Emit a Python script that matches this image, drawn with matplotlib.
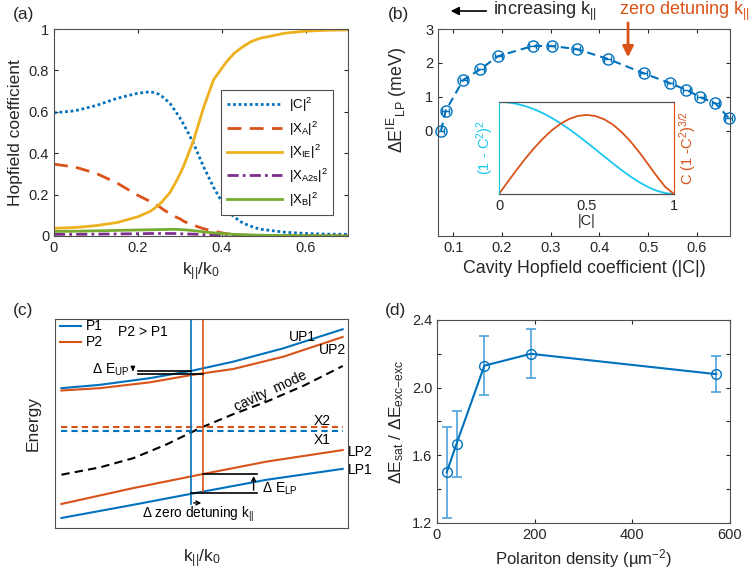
import numpy as np
import matplotlib
matplotlib.use("Agg")
from matplotlib import pyplot as plt
from matplotlib.ticker import FuncFormatter

plt.rcParams['font.family'] = ['Liberation Sans', 'DejaVu Sans']
plt.rcParams['mathtext.default'] = 'regular'
plt.rcParams['xtick.direction'] = 'in'
plt.rcParams['ytick.direction'] = 'in'
plt.rcParams['axes.edgecolor'] = '#505050'
plt.rcParams['xtick.color'] = '#262626'
plt.rcParams['ytick.color'] = '#262626'
plt.rcParams['axes.labelcolor'] = '#262626'

BLUE = '#0072BD'
ORANGE = '#D95319'
YELLOW = '#EDB120'
PURPLE = '#7E2F8E'
GREEN = '#77AC30'
CYAN = '#1AC8EE'
EBLUE = '#4DA3DC'

# (a) Hopfield coefficients vs k/k0
k_a = [0, 0.05, 0.1, 0.15, 0.2, 0.23, 0.25, 0.26, 0.276, 0.29, 0.3, 0.31, 0.332, 0.356,
       0.38, 0.41, 0.43, 0.45, 0.47, 0.49, 0.55, 0.6, 0.65, 0.7]
c2 = [0.595, 0.605, 0.63, 0.665, 0.69, 0.697, 0.685, 0.67, 0.641, 0.60, 0.57, 0.535,
      0.448, 0.335, 0.235, 0.128, 0.09, 0.062, 0.046, 0.033, 0.018, 0.012, 0.009, 0.008]
xa2 = [0.347, 0.333, 0.303, 0.256, 0.196, 0.166, 0.143, 0.128, 0.107, 0.092, 0.083, 0.07,
       0.052, 0.035, 0.023, 0.011, 0.007, 0.005, 0.003, 0.002, 0.001, 0, 0, 0]
xie2 = [0.037, 0.041, 0.05, 0.065, 0.093, 0.12, 0.15, 0.172, 0.21, 0.26, 0.30, 0.345,
        0.46, 0.62, 0.755, 0.84, 0.885, 0.915, 0.94, 0.955, 0.98, 0.99, 0.994, 0.996]
xa2s2 = [0.008, 0.008, 0.009, 0.010, 0.011, 0.012, 0.012, 0.012, 0.012, 0.012, 0.011,
         0.010, 0.009, 0.007, 0.005, 0.003, 0.002, 0.002, 0.001, 0.001, 0, 0, 0, 0]
xb2 = [0.022, 0.023, 0.025, 0.027, 0.029, 0.030, 0.031, 0.031, 0.032, 0.032, 0.031,
       0.030, 0.026, 0.020, 0.015, 0.010, 0.008, 0.006, 0.005, 0.004, 0.002, 0.001,
       0.001, 0]

# (b) LP shift vs cavity Hopfield coefficient
c_b = [0.0747, 0.0843, 0.1205, 0.155, 0.192, 0.263, 0.302, 0.353, 0.417, 0.4905,
       0.545, 0.578, 0.607, 0.638, 0.665]
de_b = [0.0, 0.59, 1.5, 1.81, 2.2, 2.5, 2.5, 2.41, 2.12, 1.7, 1.4, 1.21, 0.99, 0.81, 0.39]
c_err = [0.007] * 15

# inset of (b)
c_in = [0, .05, .1, .15, .2, .25, .3, .35, .4, .45, .5, .55, .6, .65, .7, .75, .8, .85,
        .9, .95, 1]
f1_in = [1, .995, .980, .955, .922, .879, .828, .770, .706, .636, .5625, .4865, .4096,
         .3335, .2601, .1914, .1296, .0770, .0361, .0095, 0]
f2_in = [0, .0498, .0985, .1450, .1881, .2269, .2604, .2877, .3080, .3205, .3248, .3204,
         .3072, .2853, .2549, .2170, .1728, .1243, .0745, .0289, 0]

# (c) schematic dispersions (arbitrary units)
up1_x = [0.022, 0.153, 0.324, 0.466, 0.609, 0.780, 0.982]
up1_y = [0.669, 0.685, 0.717, 0.752, 0.796, 0.860, 0.951]
up2_x = [0.022, 0.153, 0.324, 0.466, 0.609, 0.780, 0.982]
up2_y = [0.658, 0.669, 0.697, 0.732, 0.761, 0.820, 0.914]
cav_x = [0.022, 0.153, 0.267, 0.381, 0.495, 0.609, 0.723, 0.852, 0.982]
cav_y = [0.255, 0.290, 0.334, 0.400, 0.478, 0.545, 0.605, 0.683, 0.775]
lp2_x = [0.022, 0.267, 0.504, 0.723, 0.982]
lp2_y = [0.115, 0.191, 0.258, 0.318, 0.373]
lp1_x = [0.022, 0.267, 0.466, 0.723, 0.982]
lp1_y = [0.048, 0.111, 0.164, 0.231, 0.283]
x1_level = 0.462
x2_level = 0.481
k_p1 = 0.464
k_p2 = 0.504

# (d) saturation ratio vs density
dens = [20, 40, 97, 192, 572]
ratio = [1.50, 1.668, 2.13, 2.20, 2.08]
ratio_err = [0.27, 0.195, 0.175, 0.145, 0.108]

fig = plt.figure(figsize=(7.52, 5.85), dpi=100)

fmt_g = FuncFormatter(lambda v, p: '%g' % v)

# ---------- (a)
ax = fig.add_axes([0.0718, 0.5966, 0.391, 0.3538])
ax.plot(k_a, c2, color=BLUE, lw=2, ls=(0, (1, 1)), label='|C|$^2$')
ax.plot(k_a, xa2, color=ORANGE, lw=2, ls=(0, (5, 3)), label='|X$_A$|$^2$')
ax.plot(k_a, xie2, color=YELLOW, lw=2, label='|X$_{IE}$|$^2$')
ax.plot(k_a, xa2s2, color=PURPLE, lw=2, ls=(0, (4, 1.5, 1, 1.5)), label='|X$_{A2s}$|$^2$')
ax.plot(k_a, xb2, color=GREEN, lw=2, label='|X$_B$|$^2$')
ax.set_xlim(0, 0.7)
ax.set_ylim(0, 1)
ax.set_xticks([0, 0.2, 0.4, 0.6])
ax.set_yticks([0, 0.2, 0.4, 0.6, 0.8, 1])
ax.xaxis.set_major_formatter(fmt_g)
ax.yaxis.set_major_formatter(fmt_g)
ax.tick_params(labelsize=10.5, top=True, right=True, length=3)
ax.set_xlabel('k$_{||}$/k$_0$', fontsize=12.5)
ax.set_ylabel('Hopfield coefficient', fontsize=12.5)
leg = ax.legend(loc='upper right', bbox_to_anchor=(0.973, 0.739), fontsize=9.5,
                handlelength=4.2, labelspacing=0.42, borderpad=0.45, handletextpad=0.5,
                fancybox=False, edgecolor='#505050', framealpha=1)
leg.get_frame().set_linewidth(0.8)

# ---------- (b)
ax = fig.add_axes([0.5824, 0.5966, 0.3883, 0.3538])
ax.errorbar(c_b, de_b, xerr=c_err, color=BLUE, lw=1.5, ls=(0, (4, 2.5)), marker='o',
            ms=8, mfc='none', mew=1.0, capsize=2, elinewidth=1, clip_on=False)
ax.set_xlim(0.0685, 0.668)
ax.set_ylim(-3.1, 3)
ax.set_yticks([0, 1, 2, 3])
ax.set_xticks([0.1, 0.2, 0.3, 0.4, 0.5, 0.6])
ax.xaxis.set_major_formatter(fmt_g)
ax.tick_params(labelsize=10.5, top=True, right=True, length=3)
ax.set_xlabel('Cavity Hopfield coefficient (|C|)', fontsize=12.8)
ax.set_ylabel('$\\Delta E^{IE}{}_{LP}$ (meV)', fontsize=12.8)
ax.yaxis.set_label_coords(-0.1, 0.657)
ax.annotate('', xy=(0.034, 1.087), xytext=(0.175, 1.087), xycoords='axes fraction',
            arrowprops=dict(arrowstyle='-|>', color='black', lw=1.2, mutation_scale=12),
            annotation_clip=False)
ax.text(0.188, 1.087, 'increasing k$_{||}$', transform=ax.transAxes, fontsize=13,
        va='center', ha='left', color='#262626')
ax.text(0.62, 1.087, 'zero detuning k$_{||}$', transform=ax.transAxes, fontsize=13,
        va='center', ha='left', color=ORANGE)
ax.annotate('', xy=(0.651, 0.85), xytext=(0.651, 1.043), xycoords='axes fraction',
            arrowprops=dict(arrowstyle='-|>', color=ORANGE, lw=2, mutation_scale=16),
            annotation_clip=False)

axi = fig.add_axes([0.6636, 0.6684, 0.2327, 0.1573])
axi.plot(c_in, f1_in, color=CYAN, lw=1.3)
axi.set_xlim(0, 1)
axi.set_ylim(0, 1)
axi.set_yticks([])
axi.set_xticks([0, 0.5, 1])
axi.xaxis.set_major_formatter(fmt_g)
axi.tick_params(labelsize=10.5, length=0)
axi.set_xlabel('|C|', fontsize=10.5, labelpad=1)
axi.set_ylabel('(1 - C$^2$)$^2$', fontsize=10.5, color=CYAN, labelpad=2)
axi.spines['left'].set_color(CYAN)
axi.spines['right'].set_color(ORANGE)
axr = axi.twinx()
axr.plot(c_in, f2_in, color=ORANGE, lw=1.3)
axr.set_ylim(0, 0.378)
axr.set_yticks([])
axr.set_ylabel('C (1 -C$^2$)$^{3/2}$', fontsize=10.5, color=ORANGE, labelpad=2)
axr.spines['left'].set_color(CYAN)
axr.spines['right'].set_color(ORANGE)

# ---------- (c)
ax = fig.add_axes([0.0731, 0.0974, 0.3896, 0.3573])
ax.plot(up1_x, up1_y, color=BLUE, lw=1.5)
ax.plot(up2_x, up2_y, color=ORANGE, lw=1.5)
ax.plot(cav_x, cav_y, color='black', lw=1.5, ls=(0, (4, 2.5)))
ax.plot([0.022, 0.982], [x2_level, x2_level], color=ORANGE, lw=1.5, ls=(0, (3, 2)))
ax.plot([0.022, 0.982], [x1_level, x1_level], color=BLUE, lw=1.5, ls=(0, (3, 2)))
ax.plot(lp2_x, lp2_y, color=ORANGE, lw=1.5)
ax.plot(lp1_x, lp1_y, color=BLUE, lw=1.5)
ax.plot([k_p1, k_p1], [0.115, 1], color=BLUE, lw=1.2)
ax.plot([k_p2, k_p2], [0.168, 1], color=ORANGE, lw=1.2)
# delta E_UP lines
ax.plot([0.283, k_p1], [0.753, 0.753], color='black', lw=1.2)
ax.plot([0.283, k_p2], [0.737, 0.737], color='black', lw=1.2)
ax.annotate('', xy=(0.266, 0.737), xytext=(0.266, 0.775),
            arrowprops=dict(arrowstyle='-|>', color='black', lw=1, mutation_scale=6))
ax.text(0.255, 0.755, '$\\Delta$ E$_{UP}$', fontsize=10, ha='right', va='center')
# delta E_LP lines
ax.plot([k_p2, 0.689], [0.26, 0.26], color='black', lw=1.2)
ax.plot([k_p1, 0.689], [0.168, 0.168], color='black', lw=1.2)
ax.annotate('', xy=(0.678, 0.262), xytext=(0.678, 0.168),
            arrowprops=dict(arrowstyle='->', color='black', lw=1, mutation_scale=7))
ax.text(0.706, 0.19, '$\\Delta$ E$_{LP}$', fontsize=10, ha='left', va='center')
ax.annotate('', xy=(k_p2 + 0.005, 0.12), xytext=(k_p1, 0.12),
            arrowprops=dict(arrowstyle='->', color='black', lw=1, mutation_scale=7))
ax.text(0.49, 0.064, '$\\Delta$ zero detuning k$_{||}$', fontsize=9.8, ha='center',
        va='center')
ax.plot([0.016, 0.09], [0.967, 0.967], color=BLUE, lw=1.5)
ax.plot([0.016, 0.09], [0.892, 0.892], color=ORANGE, lw=1.5)
ax.text(0.105, 0.967, 'P1', fontsize=10, va='center')
ax.text(0.105, 0.892, 'P2', fontsize=10, va='center')
ax.text(0.216, 0.94, 'P2 > P1', fontsize=10, va='center')
ax.text(0.797, 0.916, 'UP1', fontsize=10, va='center')
ax.text(0.90, 0.852, 'UP2', fontsize=10, va='center')
ax.text(0.883, 0.51, 'X2', fontsize=10, va='center')
ax.text(0.883, 0.419, 'X1', fontsize=10, va='center')
ax.text(1.0, 0.366, 'LP2', fontsize=10, va='center')
ax.text(1.0, 0.279, 'LP1', fontsize=10, va='center')
ax.text(0.735, 0.655, 'cavity  mode', fontsize=10, ha='center', va='center', rotation=25)
ax.set_xlim(0, 1)
ax.set_ylim(0, 1)
ax.set_xticks([])
ax.set_yticks([])
ax.set_xlabel('k$_{||}$/k$_0$', fontsize=12.5, labelpad=14)
ax.set_ylabel('Energy', fontsize=12.5, labelpad=10)

# ---------- (d)
ax = fig.add_axes([0.5811, 0.1060, 0.3896, 0.347])
ax.errorbar(dens, ratio, yerr=ratio_err, fmt='none', ecolor=EBLUE, elinewidth=1.2,
            capsize=3.5, capthick=1.2)
ax.plot(dens, ratio, color=BLUE, lw=1.5, marker='o', ms=7, mfc='none', mew=1.0)
ax.set_xlim(0, 600)
ax.set_ylim(1.2, 2.4)
ax.set_xticks([0, 200, 400, 600])
ax.set_yticks([1.2, 1.4, 1.6, 1.8, 2.0, 2.2, 2.4])
ax.set_yticklabels(['1.2', '', '1.6', '', '2.0', '', '2.4'])
ax.tick_params(labelsize=10.5, top=True, right=True, length=3)
ax.set_xlabel('Polariton density (µm$^{-2}$)', fontsize=12)
ax.set_ylabel('$\\Delta E_{sat}$ / $\\Delta E_{exc{-}exc}$', fontsize=12.5)

fig.text(0.017, 1 - 14 / 585, '(a)', fontsize=12.5, va='center', color='#262626')
fig.text(0.516, 1 - 14 / 585, '(b)', fontsize=12.5, va='center', color='#262626')
fig.text(0.017, 1 - 310 / 585, '(c)', fontsize=12.5, va='center', color='#262626')
fig.text(0.512, 1 - 310 / 585, '(d)', fontsize=12.5, va='center', color='#262626')

fig.savefig('out.png', dpi=100)
